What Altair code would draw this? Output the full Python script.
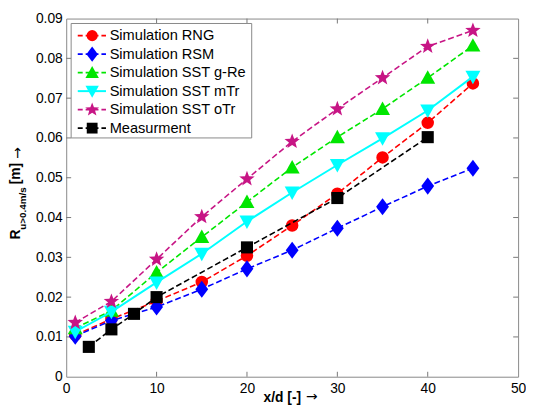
import math
import altair as alt
import pandas as pd

# ---------------- data ----------------
x_sim = [1, 5, 10, 15, 20, 25, 30, 35, 40, 45]
rng_vals = [0.0105, 0.0145, 0.0190, 0.0238, 0.0304, 0.0380, 0.0460, 0.0551, 0.0638, 0.0737]
rsm_vals = [0.0102, 0.0141, 0.0175, 0.0220, 0.0271, 0.0318, 0.0373, 0.0427, 0.0479, 0.0524]
sst_gre_vals = [0.0122, 0.0166, 0.0262, 0.0351, 0.0439, 0.0526, 0.0602, 0.0673, 0.0751, 0.0832]
sst_mtr_vals = [0.0113, 0.0163, 0.0237, 0.0309, 0.0390, 0.0463, 0.0532, 0.0599, 0.0669, 0.0754]
sst_otr_vals = [0.0136, 0.0189, 0.0295, 0.0402, 0.0497, 0.0591, 0.0673, 0.0751, 0.0830, 0.0870]
x_meas = [2.5, 5, 7.5, 10, 20, 30, 40]
meas_vals = [0.0075, 0.0119, 0.0158, 0.0200, 0.0325, 0.0449, 0.0602]

series_names = ["Simulation RNG", "Simulation RSM", "Simulation SST g-Re",
                "Simulation SST mTr", "Simulation SST oTr", "Measurment"]
x_tick_values = [0, 10, 20, 30, 40, 50]
y_tick_values = [0, 0.01, 0.02, 0.03, 0.04, 0.05, 0.06, 0.07, 0.08, 0.09]
x_inner_ticks = [10, 20, 30, 40]
y_inner_ticks = [0.01, 0.02, 0.03, 0.04, 0.05, 0.06, 0.07, 0.08]

# ---------------- styling ----------------
FONT = "Liberation Sans"
W, H = 458, 363

def star_path():
    pts = []
    for k in range(10):
        ang = math.radians(-90 + 36 * k)
        r = 1.0 if k % 2 == 0 else 0.42
        pts.append((r * math.cos(ang), r * math.sin(ang)))
    return "M" + "L".join(f"{px:.3f},{py:.3f}" for px, py in pts) + "Z"

DIAMOND = "M0,-1L0.75,0L0,1L-0.75,0Z"
TRI_UP = "M0,-1L1,0.8L-1,0.8Z"
TRI_DOWN = "M0,1L1,-0.8L-1,-0.8Z"
STAR = star_path()

styles = [
    dict(color="#FF0000", dash=[6, 3], shape="circle", size=160),
    dict(color="#0000FF", dash=[6, 3], shape=DIAMOND, size=300),
    dict(color="#00E600", dash=[6, 3], shape=TRI_UP, size=230),
    dict(color="#00FFFF", dash=None, shape=TRI_DOWN, size=230),
    dict(color="#C71585", dash=[6, 3], shape=STAR, size=270),
    dict(color="#000000", dash=[6, 3], shape="square", size=150),
]
series_x = [x_sim, x_sim, x_sim, x_sim, x_sim, x_meas]
series_y = [rng_vals, rsm_vals, sst_gre_vals, sst_mtr_vals, sst_otr_vals, meas_vals]

xscale = alt.Scale(domain=[0, 50], nice=False, zero=False)
yscale = alt.Scale(domain=[0, 0.09], nice=False, zero=False)
xaxis = alt.Axis(values=x_tick_values, title=None, grid=False, ticks=False, domain=False,
                 labelFontSize=14, labelFont=FONT, labelColor="black", labelPadding=5,
                 labelFlush=False, labelOverlap=False)
yaxis = alt.Axis(values=y_tick_values, title=None, grid=False, ticks=False, domain=False,
                 labelFontSize=14, labelFont=FONT, labelColor="black", labelPadding=4,
                 labelFlush=False, labelOverlap=False,
                 labelExpr="datum.value == 0 ? '0' : format(datum.value, '.2f')")

layers = []

# inward ticks (MATLAB box style)
xt = pd.DataFrame({"t": x_inner_ticks})
yt = pd.DataFrame({"t": y_inner_ticks})
tick_color = "#777777"
layers.append(alt.Chart(xt).mark_rule(color=tick_color, strokeWidth=1).encode(
    x=alt.X("t:Q", scale=xscale, axis=xaxis), y=alt.value(H), y2=alt.value(H - 5)))
layers.append(alt.Chart(xt).mark_rule(color=tick_color, strokeWidth=1).encode(
    x=alt.X("t:Q", scale=xscale, axis=xaxis), y=alt.value(0), y2=alt.value(5)))
layers.append(alt.Chart(yt).mark_rule(color=tick_color, strokeWidth=1).encode(
    y=alt.Y("t:Q", scale=yscale, axis=yaxis), x=alt.value(0), x2=alt.value(5)))
layers.append(alt.Chart(yt).mark_rule(color=tick_color, strokeWidth=1).encode(
    y=alt.Y("t:Q", scale=yscale, axis=yaxis), x=alt.value(W), x2=alt.value(W - 5)))

# data series
for xs, ys, st in zip(series_x, series_y, styles):
    df = pd.DataFrame({"x": xs, "y": ys})
    base = alt.Chart(df).encode(
        x=alt.X("x:Q", scale=xscale, axis=xaxis),
        y=alt.Y("y:Q", scale=yscale, axis=yaxis),
    )
    line_kw = dict(color=st["color"], strokeWidth=1.6)
    if st["dash"] is not None:
        line_kw["strokeDash"] = st["dash"]
    else:
        line_kw["strokeWidth"] = 2
    layers.append(base.mark_line(**line_kw))
    layers.append(base.mark_point(shape=st["shape"], filled=True, color=st["color"],
                                  size=st["size"], opacity=1, strokeWidth=0))

# legend box
one = pd.DataFrame({"k": [0]})
layers.append(alt.Chart(one).mark_rect(fill="white", stroke="#888888", strokeWidth=1).encode(
    x=alt.value(5), x2=alt.value(188), y=alt.value(5), y2=alt.value(121)))
for i, (name, st) in enumerate(zip(series_names, styles)):
    yy = 17.3 + i * 18.75
    ldf = pd.DataFrame({"label": [name]})
    rule_kw = dict(color=st["color"], strokeWidth=1.6)
    if st["dash"] is not None:
        rule_kw["strokeDash"] = [5, 3]
    else:
        rule_kw["strokeWidth"] = 2
    layers.append(alt.Chart(ldf).mark_rule(**rule_kw).encode(
        x=alt.value(11.7), x2=alt.value(40.3), y=alt.value(yy)))
    layers.append(alt.Chart(ldf).mark_point(shape=st["shape"], filled=True, color=st["color"],
                                            size=st["size"] * 0.8, opacity=1, strokeWidth=0).encode(
        x=alt.value(26.3), y=alt.value(yy)))
    layers.append(alt.Chart(ldf).mark_text(align="left", baseline="middle", font=FONT,
                                           fontSize=14.8, color="black").encode(
        x=alt.value(44), y=alt.value(yy + 0.5), text="label:N"))

# axis titles (drawn as text so the subscript can be reproduced)
def txt(s, x, y, size=14, bold=True, angle=None, align="left", font=FONT):
    kw = dict(align=align, baseline="alphabetic", font=font, fontSize=size,
              fontWeight="bold" if bold else "normal", color="black")
    if angle is not None:
        kw["angle"] = angle
    return alt.Chart(pd.DataFrame({"s": [s]})).mark_text(**kw).encode(
        x=alt.value(x), y=alt.value(y), text="s:N")

layers.append(txt("x/d [-]", 200, 389))
layers.append(txt("\u2192", 243, 388, size=14, bold=False, font="DejaVu Sans"))
layers.append(txt("R", -47, 224, angle=270))
layers.append(txt("u>0.4m/s", -41, 214, size=10, angle=270))
layers.append(txt("[m]", -47, 168, angle=270))
layers.append(txt("\u2192", -45, 142, size=14, bold=False, angle=270, font="DejaVu Sans"))

chart = alt.layer(*layers).properties(
    width=W, height=H,
    padding={"left": 59, "top": 8, "right": 8, "bottom": 29},
    autosize=alt.AutoSizeParams(type="none"),
    background="white",
).configure_view(stroke="#888888", strokeWidth=1)

chart.save("out.html", embed_options={"renderer": "svg", "actions": False})
